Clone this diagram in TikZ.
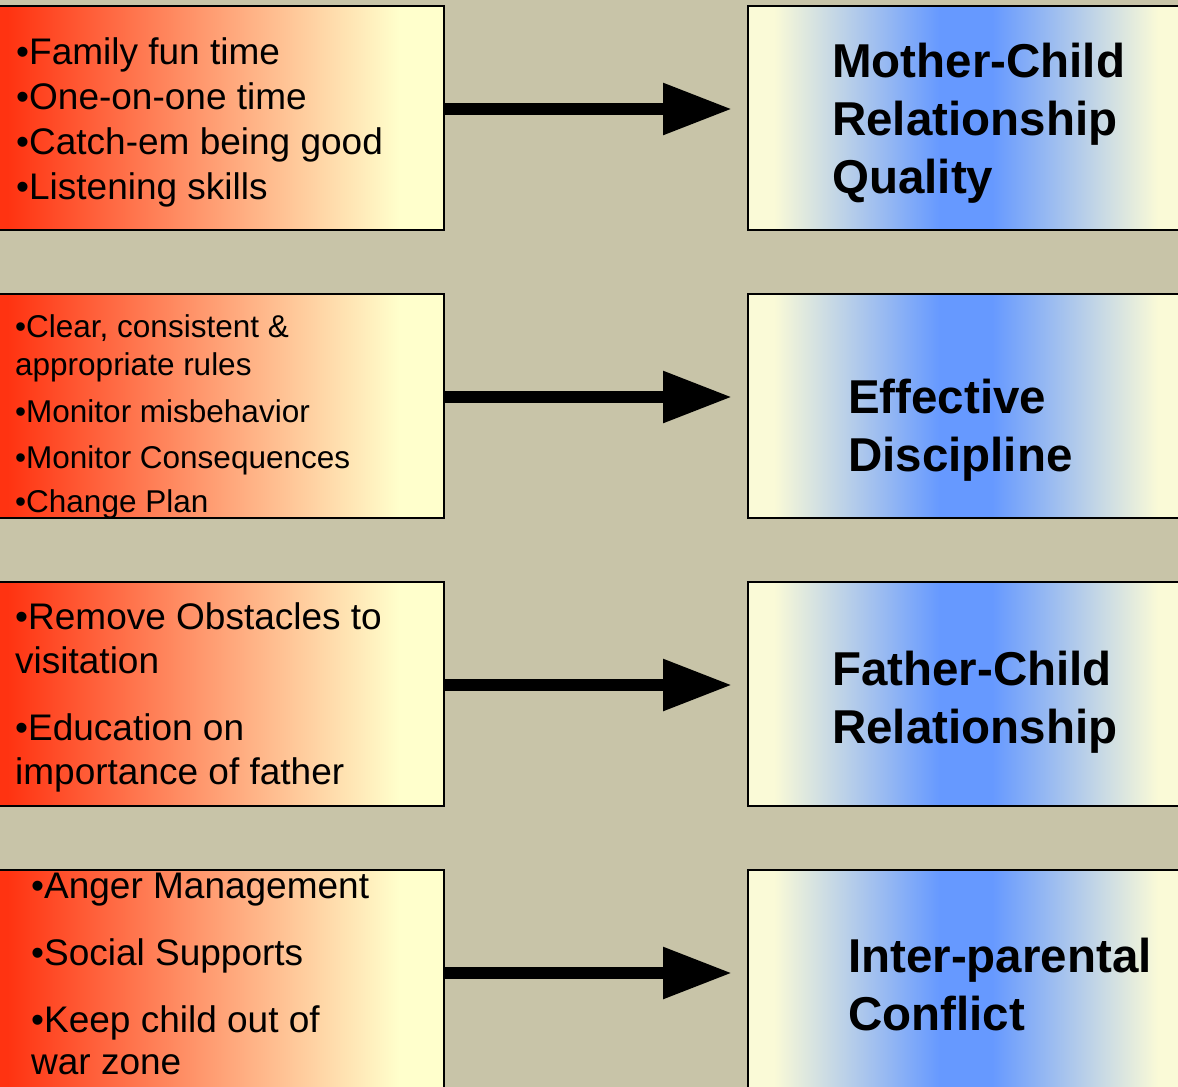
\documentclass[tikz,border=0pt]{standalone}
\usepackage{fontspec}
\setmainfont{Liberation Sans}
\usetikzlibrary{arrows.meta}

\definecolor{sand}{HTML}{C8C4A8}
\definecolor{brick}{HTML}{FF3311}
\definecolor{cream}{HTML}{FFFFCC}
\definecolor{ivory}{HTML}{FAFAD7}
\definecolor{sky}{HTML}{6699FF}

\pgfdeclarehorizontalshading{skillfade}{100bp}{color(0bp)=(brick); color(25bp)=(brick); color(26bp)=(brick); color(70bp)=(cream); color(100bp)=(cream)}
\pgfdeclarehorizontalshading{goalfade}{100bp}{color(0bp)=(ivory); color(25bp)=(ivory); color(28bp)=(ivory); color(47bp)=(sky); color(53bp)=(sky); color(72bp)=(ivory); color(100bp)=(ivory)}

\tikzset{
  skill/.style={draw=black, line width=2bp, shade, shading=skillfade, minimum width=445bp, minimum height=224bp, inner sep=0pt, anchor=north west},
  goal/.style={draw=black, line width=2bp, shade, shading=goalfade, minimum width=436bp, minimum height=224bp, inner sep=0pt, anchor=north west},
  items/.style={anchor=north west, inner sep=0pt, align=left, font=\fontsize{37bp}{#1}\selectfont},
  outcome/.style={anchor=north west, inner sep=0pt, align=left, font=\fontsize{47.5bp}{58bp}\selectfont\bfseries},
  fatarrow/.style={line width=12bp, -{Triangle[length=69bp,width=49bp]}, shorten >=15bp}
}

\begin{document}
\begin{tikzpicture}[x=1bp,y=-1bp]
  \useasboundingbox (0,0) rectangle (1178,1087);
  \clip (0,0) rectangle (1178,1087);
  \fill[sand] (0,0) rectangle (1178,1087);

  \node[skill] (skill1) at (-2,5) {};
  \node[skill] (skill2) at (-2,293) {};
  \node[skill] (skill3) at (-2,581) {};
  \node[skill] (skill4) at (-2,869) {};

  \node[goal] (goal1) at (747,5) {};
  \node[goal] (goal2) at (747,293) {};
  \node[goal] (goal3) at (747,581) {};
  \node[goal] (goal4) at (747,869) {};

  \node[items=45bp] (list1) at (16,37) {•Family fun time\\•One-on-one time\\•Catch-em being good\\•Listening skills};
  \node[items=38bp, font=\fontsize{31.5bp}{38bp}\selectfont] (list2) at (15,314)
    {•Clear, consistent \&\\appropriate rules\\[9bp]•Monitor misbehavior\\[8bp]•Monitor Consequences\\[6bp]•Change Plan};
  \node[items=44bp] (list3) at (15,602) {•Remove Obstacles to\\visitation\\[23bp]•Education on\\importance of father};
  \node[items=42bp] (list4) at (31,873) {•Anger Management\\[25bp]•Social Supports\\[25bp]•Keep child out of\\war zone};

  \node[outcome] (mc) at (832,43) {Mother-Child\\Relationship\\Quality};
  \node[outcome] (ed) at (848,379) {Effective\\Discipline};
  \node[outcome] (fc) at (832,651) {Father-Child\\Relationship};
  \node[outcome] (ip) at (848,938) {Inter-parental\\Conflict};

  \draw[fatarrow] ([yshift=9bp]skill1.east) -- ([yshift=9bp]goal1.west);
  \draw[fatarrow] ([yshift=9bp]skill2.east) -- ([yshift=9bp]goal2.west);
  \draw[fatarrow] ([yshift=9bp]skill3.east) -- ([yshift=9bp]goal3.west);
  \draw[fatarrow] ([yshift=9bp]skill4.east) -- ([yshift=9bp]goal4.west);
\end{tikzpicture}
\end{document}
